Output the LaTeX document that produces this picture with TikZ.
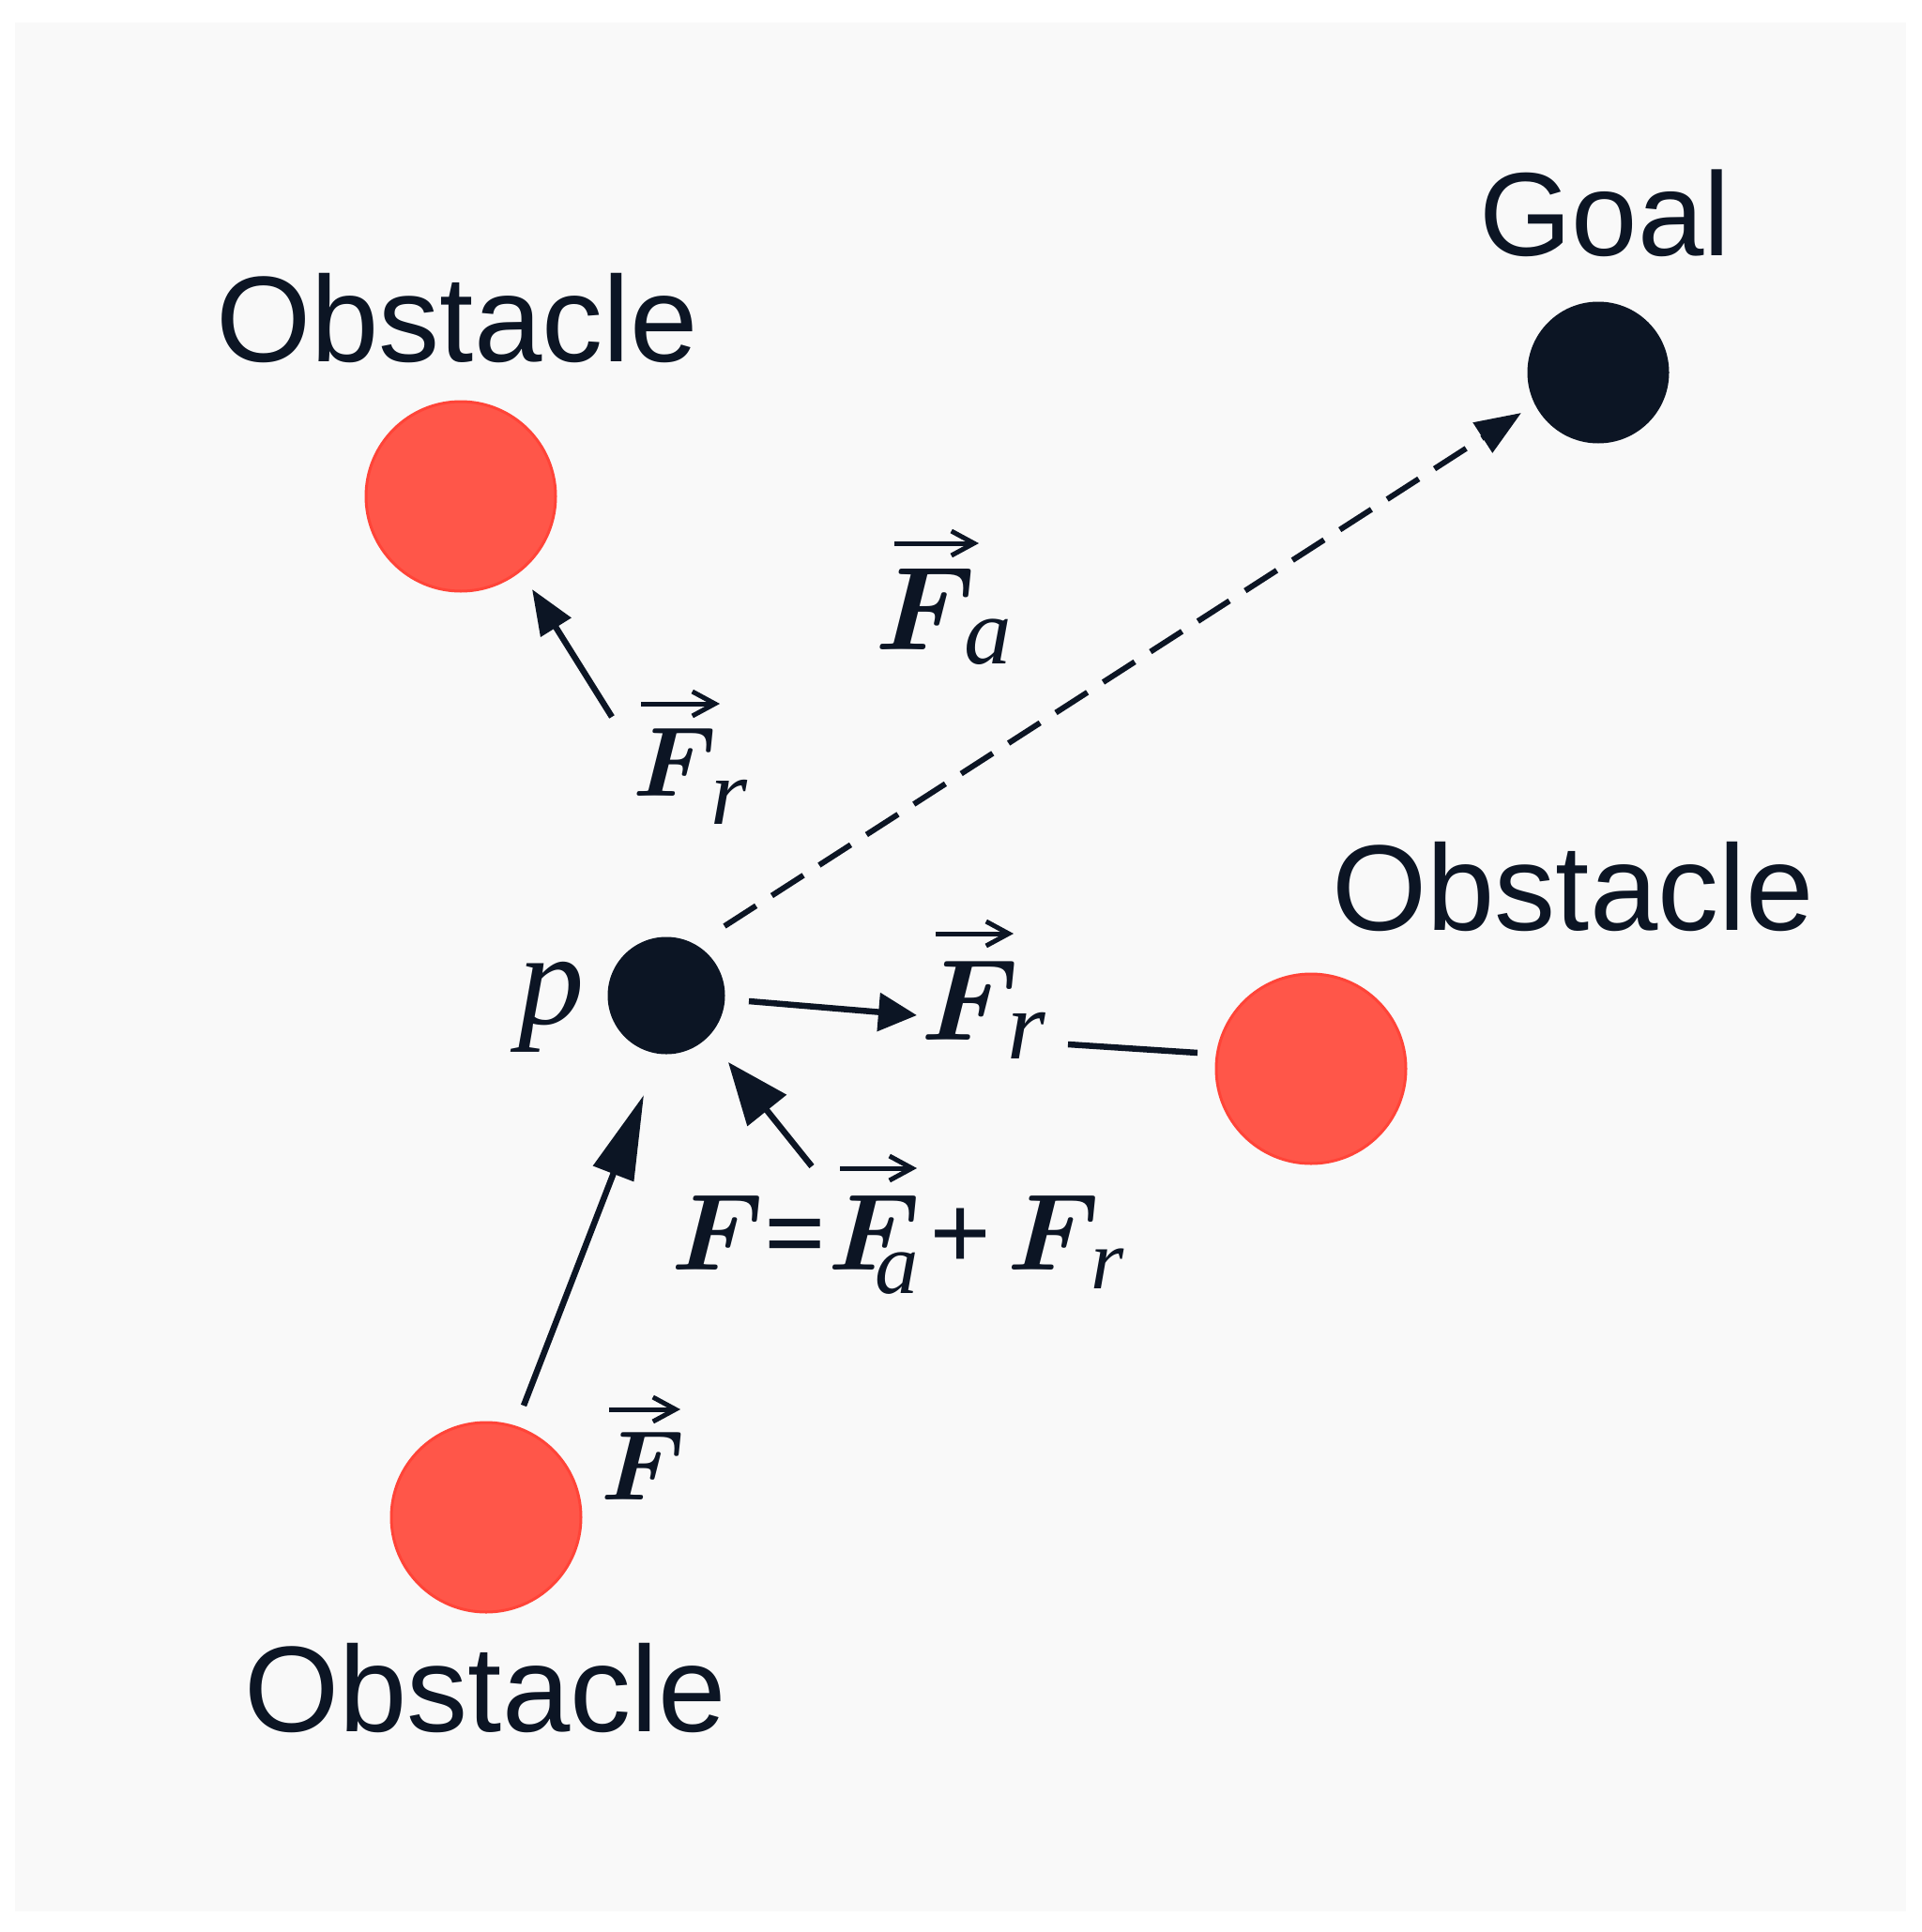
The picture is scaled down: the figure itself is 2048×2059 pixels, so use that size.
\documentclass[tikz,border=0pt]{standalone}
\usepackage{fix-cm}
\usepackage{amsmath}
\usepackage{bm}
\usepackage{graphicx}
\usepackage{fontspec}
\newfontfamily\labfont{Liberation Sans}
\newfontfamily\mfont{Liberation Serif}
\usetikzlibrary{arrows.meta}
\definecolor{ink}{HTML}{0C1524}
\definecolor{obsred}{HTML}{FF5649}
\definecolor{obsedge}{HTML}{FF4438}
\definecolor{bgfill}{HTML}{F9F9F9}
\newcommand\bF{$\bm{F}$}
% \sub{scale}{lowering}{letter}
\newcommand\sub[3]{\raisebox{-#2}{\scalebox{#1}{\mfont\itshape #3}}}
\begin{document}
\begin{tikzpicture}[x=0.1mm,y=-0.1mm,
  obstacle/.style={circle, fill=obsred, draw=obsedge, line width=0.3mm, minimum size=20.2mm, inner sep=0},
  dot/.style={circle, fill=ink, inner sep=0},
  lab/.style={font=\labfont\fontsize{37}{40}\selectfont, text=ink, inner sep=0, anchor=base},
  mlab/.style={text=ink, inner sep=0, anchor=base west},
  force/.style={draw=ink, line width=0.65mm},
  vecarrow/.style={draw=ink, line width=0.5mm, -{Straight Barb[length=2.4mm,width=2.6mm]}},
]
\useasboundingbox (0,0) rectangle (2048,2059);
\fill[white] (0,0) rectangle (2048,2059);
\fill[bgfill] (16,24) rectangle (2031,2037);

% circles
\node[obstacle] (o1) at (491,529) {};
\node[obstacle] (o2) at (1397,1139) {};
\node[obstacle] (o3) at (518,1617) {};
\node[dot, minimum size=15.1mm] (goal) at (1703,397) {};
\node[dot, minimum size=12.5mm] (p) at (710,1061) {};

% math labels
\node[mlab, font=\fontsize{36}{40}\selectfont] (fa) at (932,692)
  {\bF\kern-0.1em\sub{0.8}{0.12em}{a}};
\node[mlab, font=\fontsize{30}{34}\selectfont] (fr1) at (674,848)
  {\bF\kern-0.06em\sub{0.95}{0.29em}{r}};
\node[mlab, font=\fontsize{35}{40}\selectfont] (fr2) at (981,1108)
  {\bF\kern-0.1em\sub{0.85}{0.17em}{r}};
\node[mlab, font=\fontsize{33}{38}\selectfont] (eq) at (715,1353)
  {\bF\kern0.0em{\mfont\bfseries =}\kern0.02em\bF\kern-0.42em\sub{0.8}{0.22em}{a}\kern0.1em{\mfont\bfseries +}\kern0.15em\bF\kern-0.08em\sub{0.78}{0.18em}{r}};
\node[mlab, font=\fontsize{30}{34}\selectfont] (fb) at (640,1598) {\bF};
\node[mlab, font=\fontsize{40}{44}\selectfont] (pl) at (552,1091) {\mfont\itshape p};

% text labels
\node[lab] (lo1) at (487,385) {Obstacle};
\node[lab, font=\labfont\fontsize{36}{40}\selectfont] (lgoal) at (1710,272) {Goal};
\node[lab] (lo2) at (1676,991) {Obstacle};
\node[lab] (lo3) at (517,1845) {Obstacle};

% vector arrows over the F's
\coordinate (vfa1) at (953,579);  \coordinate (vfa2) at (1043,579);
\coordinate (vfr1) at (683,750);  \coordinate (vfr2) at (767,750);
\coordinate (vfm1) at (997,995);  \coordinate (vfm2) at (1080,995);
\coordinate (vfe1) at (895,1245); \coordinate (vfe2) at (977,1245);
\coordinate (vfb1) at (649,1502); \coordinate (vfb2) at (725,1502);
\draw[vecarrow] (vfa1) -- (vfa2);
\draw[vecarrow] (vfr1) -- (vfr2);
\draw[vecarrow] (vfm1) -- (vfm2);
\draw[vecarrow] (vfe1) -- (vfe2);
\draw[vecarrow] (vfb1) -- (vfb2);

% connector end points
\coordinate (d1) at (772,987);
\coordinate (d2) at (1621,440);
\coordinate (r1s) at (652,764);
\coordinate (r1e) at (567,628);
\coordinate (m1s) at (798,1067);
\coordinate (m1e) at (977,1082);
\coordinate (l1s) at (1138,1113);
\coordinate (l1e) at (1276,1122);
\coordinate (q1s) at (865,1243);
\coordinate (q1e) at (776,1132);
\coordinate (b1s) at (558,1498);
\coordinate (b1e) at (686,1167);

% connectors
\draw[force, line width=0.6mm, dash pattern=on 4mm off 2mm, -{Triangle[length=4.9mm,width=3.7mm]}] (d1) -- (d2);
\draw[force, -{Triangle[length=4.8mm,width=3.7mm]}] (r1s) -- (r1e);
\draw[force, -{Triangle[length=4.1mm,width=4mm]}] (m1s) -- (m1e);
\draw[force] (l1s) -- (l1e);
\draw[force, -{Triangle[length=6.6mm,width=5.2mm]}] (q1s) -- (q1e);
\draw[force, -{Triangle[length=9mm,width=4.5mm]}] (b1s) -- (b1e);
\end{tikzpicture}
\end{document}
